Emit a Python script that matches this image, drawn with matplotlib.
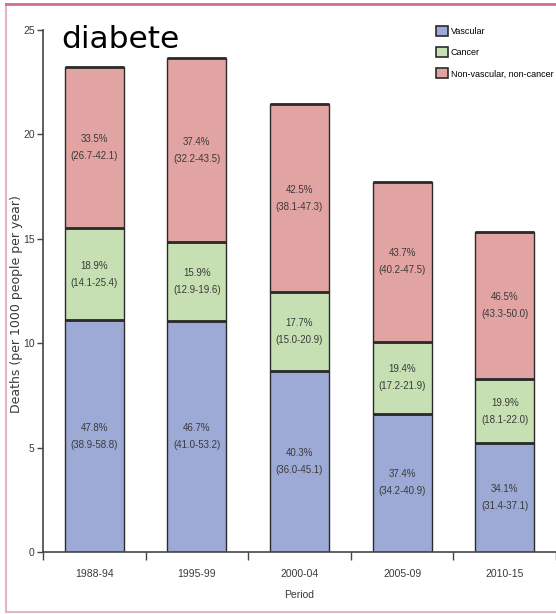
import numpy as np
import matplotlib
matplotlib.use("Agg")
import matplotlib.pyplot as plt
from matplotlib.patches import Patch

# values (deaths per 1000 people per year)
periods = ["1988-94", "1995-99", "2000-04", "2005-09", "2010-15"]
vascular = [11.1, 11.05, 8.65, 6.63, 5.22]
cancer = [4.4, 3.8, 3.8, 3.44, 3.05]
other = [7.75, 8.8, 9.0, 7.67, 7.05]

vascular_lbl = ["47.8%\n(38.9-58.8)", "46.7%\n(41.0-53.2)", "40.3%\n(36.0-45.1)",
                "37.4%\n(34.2-40.9)", "34.1%\n(31.4-37.1)"]
cancer_lbl = ["18.9%\n(14.1-25.4)", "15.9%\n(12.9-19.6)", "17.7%\n(15.0-20.9)",
              "19.4%\n(17.2-21.9)", "19.9%\n(18.1-22.0)"]
other_lbl = ["33.5%\n(26.7-42.1)", "37.4%\n(32.2-43.5)", "42.5%\n(38.1-47.3)",
             "43.7%\n(40.2-47.5)", "46.5%\n(43.3-50.0)"]

series_names = ["Vascular", "Cancer", "Non-vascular, non-cancer"]
colors = ["#9eaad6", "#c6e0b4", "#e2a3a3"]

narrow = ["Liberation Sans", "DejaVu Sans"]
txt_col = "#3a3a3a"

fig = plt.figure(figsize=(5.56, 6.14), dpi=100)
ax = fig.add_axes([0.0773, 0.101, 0.9227, 0.850])

x = np.arange(len(periods))
w = 0.575
bottom = np.zeros(len(periods))
for vals, lbls, col in zip([vascular, cancer, other],
                           [vascular_lbl, cancer_lbl, other_lbl], colors):
    bars = ax.bar(x, vals, w, bottom=bottom, color=col,
                  edgecolor="#2b2b2b", linewidth=1.0)
    ax.bar_label(bars, labels=lbls, label_type="center", fontsize=7,
                 family=narrow, color=txt_col, linespacing=1.9)
    # darker line at top of each segment
    ax.hlines(bottom + np.array(vals), x - w / 2, x + w / 2,
              color="#2b2b2b", linewidth=2)
    bottom = bottom + np.array(vals)

ax.set_xlim(-0.5, 4.5)
ax.set_ylim(0, 25)
ax.set_yticks([0, 5, 10, 15, 20, 25])
ax.set_xticks(x)
ax.set_xticklabels(periods)
ax.set_xticks(np.arange(-0.5, 5.0, 1.0), minor=True)
ax.tick_params(axis="x", which="major", length=0, pad=12, labelsize=7.5,
               labelcolor=txt_col)
ax.tick_params(axis="x", which="minor", length=6, width=1, color="#444444",
               direction="out")
ax.tick_params(axis="y", length=4, width=1, color="#444444", labelsize=7.5,
               labelcolor=txt_col, pad=2)
for lab in ax.get_xticklabels() + ax.get_yticklabels():
    lab.set_family(narrow)

for s in ["top", "right"]:
    ax.spines[s].set_visible(False)
for s in ["left", "bottom"]:
    ax.spines[s].set_color("#444444")
    ax.spines[s].set_linewidth(1.2)

ax.set_xlabel("Period", fontsize=7.5, family=narrow, color=txt_col, labelpad=8)
fig.text(0.029, 0.505, "Deaths (per 1000 people per year)", rotation=90,
         ha="center", va="center", fontsize=9, color=txt_col)

fig.text(0.111, 0.922, "diabete", fontsize=22.5, family="DejaVu Sans",
         color="black", ha="left", va="baseline")

handles = [Patch(facecolor=c, edgecolor="#2b2b2b", linewidth=1.2) for c in colors]
ax.legend(handles, series_names, loc="upper left",
          bbox_to_anchor=(436 / 556, 1 - 26 / 614), bbox_transform=fig.transFigure,
          frameon=False, handlelength=1.3, handleheight=1.3,
          handletextpad=0.35, labelspacing=1.25, borderaxespad=0, borderpad=0,
          prop={"family": narrow, "size": 6.5})

# pink frame around the picture
fig.add_artist(plt.Line2D([0.011, 0.011], [0.003, 0.993], color="#e6b4c4",
                          linewidth=1.5, transform=fig.transFigure))
fig.add_artist(plt.Line2D([0.011, 1.0], [0.004, 0.004], color="#e6b4c4",
                          linewidth=1.5, transform=fig.transFigure))
fig.add_artist(plt.Line2D([0.011, 1.0], [0.993, 0.993], color="#cf7088",
                          linewidth=2, transform=fig.transFigure))

fig.savefig("out.png", dpi=100)
